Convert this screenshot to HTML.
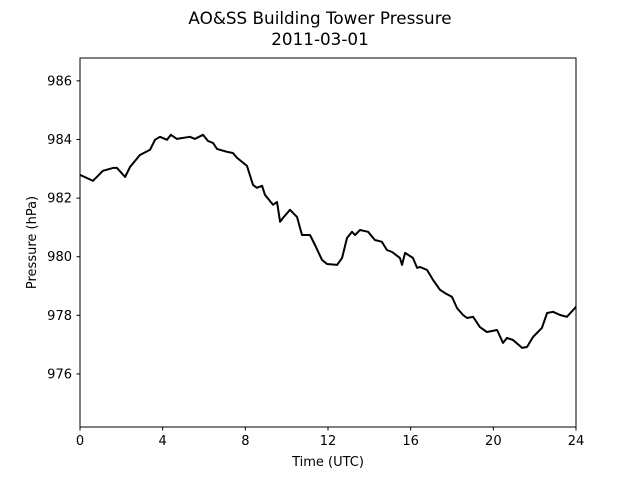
<!DOCTYPE html>
<html><head><meta charset="utf-8"><style>
body{margin:0;background:#fff}
svg text{font-family:"DejaVu Sans","Liberation Sans",sans-serif;fill:#000}
</style></head><body>
<svg id="chart" width="640" height="480" viewBox="0 0 640 480">
<rect width="640" height="480" fill="#fff"/>
<text x="320" y="24" font-size="16.8" text-anchor="middle">AO&amp;SS Building Tower Pressure</text>
<text x="320" y="45" font-size="16.8" text-anchor="middle">2011-03-01</text>
<g id="xt"></g>
<g id="yt"></g>
<path id="line" fill="none" stroke="#000" stroke-width="2" stroke-linejoin="round"/>
<rect x="80" y="58" width="496" height="369" fill="none" stroke="#000" stroke-width="1"/>
<text x="328" y="466" font-size="13" text-anchor="middle">Time (UTC)</text>
<text transform="translate(36,242.5) rotate(-90)" font-size="13" text-anchor="middle">Pressure (hPa)</text>
</svg>
<script>
const hours=[0,0.63,1.11,1.60,1.79,2.18,2.42,2.90,3.39,3.63,3.87,4.21,4.40,4.69,5.32,5.56,5.95,6.19,6.44,6.63,7.11,7.40,7.60,8.08,8.37,8.56,8.81,8.95,9.34,9.53,9.68,9.82,10.16,10.50,10.74,11.13,11.37,11.71,11.95,12.44,12.68,12.92,13.16,13.31,13.55,13.94,14.27,14.61,14.85,15.10,15.48,15.58,15.73,16.11,16.31,16.45,16.79,17.08,17.42,17.66,18.00,18.24,18.53,18.73,19.02,19.35,19.69,20.18,20.47,20.66,20.95,21.39,21.63,21.92,22.35,22.60,22.89,23.23,23.56,23.95,24];
const pressure=[982.79,982.59,982.93,983.03,983.03,982.72,983.06,983.47,983.65,983.99,984.09,983.99,984.16,984.02,984.09,984.02,984.16,983.95,983.88,983.68,983.58,983.54,983.37,983.10,982.45,982.35,982.42,982.11,981.77,981.87,981.19,981.32,981.60,981.36,980.74,980.74,980.40,979.89,979.75,979.72,979.96,980.64,980.85,980.74,980.91,980.85,980.57,980.51,980.23,980.16,979.96,979.72,980.13,979.96,979.62,979.65,979.55,979.21,978.87,978.76,978.63,978.25,978.01,977.91,977.95,977.60,977.43,977.50,977.06,977.23,977.16,976.89,976.92,977.26,977.57,978.08,978.12,978.01,977.95,978.25,978.30];
const xTicks=[0,4,8,12,16,20,24];
const yTicks=[976,978,980,982,984,986];
const X0=80,X1=576,Y0=427,Y1=58,XMIN=0,XMAX=24,YMIN=974.19,YMAX=986.78;
const xs=v=>X0+(v-XMIN)/(XMAX-XMIN)*(X1-X0);
const ys=v=>Y0-(v-YMIN)/(YMAX-YMIN)*(Y0-Y1);
const NS="http://www.w3.org/2000/svg";
let d="";
for(let i=0;i<hours.length;i++){d+=(i?"L":"M")+xs(hours[i]).toFixed(1)+","+ys(pressure[i]).toFixed(1);}
document.getElementById("line").setAttribute("d",d);
const xt=document.getElementById("xt"),yt=document.getElementById("yt");
xTicks.forEach(t=>{
 const x=xs(t);
 const l=document.createElementNS(NS,"line");
 l.setAttribute("x1",x);l.setAttribute("x2",x);l.setAttribute("y1",427);l.setAttribute("y2",430.5);l.setAttribute("stroke","#000");
 
 
 xt.appendChild(l);
 const tx=document.createElementNS(NS,"text");
 tx.setAttribute("x",x);tx.setAttribute("y",445);tx.setAttribute("font-size","13");tx.setAttribute("text-anchor","middle");
 tx.textContent=t;
 
 
 xt.appendChild(tx);
});
yTicks.forEach(t=>{
 const y=ys(t);
 const l=document.createElementNS(NS,"line");
 l.setAttribute("x1",76.5);l.setAttribute("x2",80);l.setAttribute("y1",y);l.setAttribute("y2",y);l.setAttribute("stroke","#000");
 
 
 yt.appendChild(l);
 const tx=document.createElementNS(NS,"text");
 tx.setAttribute("x",72);tx.setAttribute("y",y+4.5);tx.setAttribute("font-size","13");tx.setAttribute("text-anchor","end");
 tx.textContent=t;
 
 
 yt.appendChild(tx);
});
</script>
</body></html>
